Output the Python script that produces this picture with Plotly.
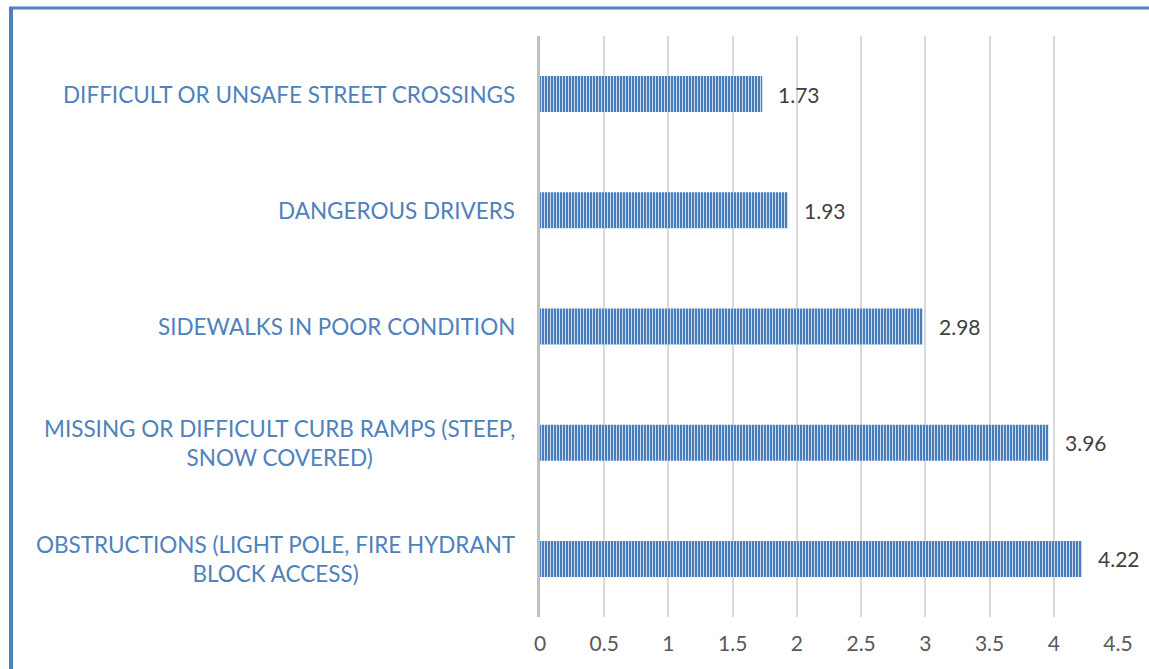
import plotly.graph_objects as go

categories = [
    "DIFFICULT OR UNSAFE STREET CROSSINGS",
    "DANGEROUS DRIVERS",
    "SIDEWALKS IN POOR CONDITION",
    "MISSING OR DIFFICULT CURB RAMPS (STEEP,<br>SNOW COVERED)",
    "OBSTRUCTIONS (LIGHT POLE, FIRE HYDRANT<br>BLOCK ACCESS)",
]
values = [1.73, 1.93, 2.98, 3.96, 4.22]
x_ticks = [0, 0.5, 1, 1.5, 2, 2.5, 3, 3.5, 4, 4.5]
x_tick_labels = ["0", "0.5", "1", "1.5", "2", "2.5", "3", "3.5", "4", "4.5"]

W, H = 1149, 669
ML, MR, MT, MB = 540, 31, 36, 52
FONT = "Lato"

fig = go.Figure()
fig.add_trace(go.Bar(
    x=values, y=categories, orientation="h",
    marker=dict(
        color="#4a7ebb",
        line=dict(width=0),
        pattern=dict(shape="|", bgcolor="#4a7ebb", fgcolor="#c9d9ee",
                     size=3, solidity=0.35, fillmode="replace"),
    ),
    hoverinfo="skip",
))

annotations = []
for c, v in zip(categories, values):
    annotations.append(dict(
        x=v, y=c, xref="x", yref="y", text=f"{v:.2f}", showarrow=False,
        xanchor="left", xshift=14, font=dict(family=FONT, size=21, color="#404040"),
    ))
    annotations.append(dict(
        x=0, y=c, xref="paper", yref="y", text=c, showarrow=False,
        xanchor="right", xshift=-23, align="center",
        font=dict(family=FONT, size=22.5, color="#4f81bd"),
    ))

pw = W - ML - MR
ph = H - MT - MB
def px_x(p):
    return (p - ML) / pw
def px_y(p):
    return (H - MB - p) / ph

shapes = [
    dict(type="line", xref="paper", yref="paper", x0=px_x(9), x1=px_x(W + 5),
         y0=px_y(8), y1=px_y(8), line=dict(color="#4f81bd", width=3)),
    dict(type="line", xref="paper", yref="paper", x0=px_x(11), x1=px_x(11),
         y0=px_y(7), y1=px_y(H + 5), line=dict(color="#4f81bd", width=4)),
]

fig.update_layout(
    width=W, height=H,
    margin=dict(l=ML, r=MR, t=MT, b=MB),
    paper_bgcolor="white", plot_bgcolor="white",
    bargap=0.69,
    showlegend=False,
    annotations=annotations,
    shapes=shapes,
    xaxis=dict(
        range=[0, 4.5], tickvals=x_ticks, ticktext=x_tick_labels,
        showgrid=True, gridcolor="#d9d9d9", gridwidth=2,
        zeroline=False, showline=False, ticks="",
        tickfont=dict(family=FONT, size=21, color="#595959"),
        ticklabelstandoff=12, fixedrange=True,
    ),
    yaxis=dict(
        autorange="reversed", showticklabels=False, showgrid=False,
        showline=True, linecolor="#bfbfbf", linewidth=3, ticks="",
        zeroline=False, fixedrange=True,
    ),
)

fig.write_html(
    "out.html",
    config={"displayModeBar": False},
    post_script="document.body.style.margin='0';document.body.style.padding='0';document.documentElement.style.overflow='hidden';",
)
